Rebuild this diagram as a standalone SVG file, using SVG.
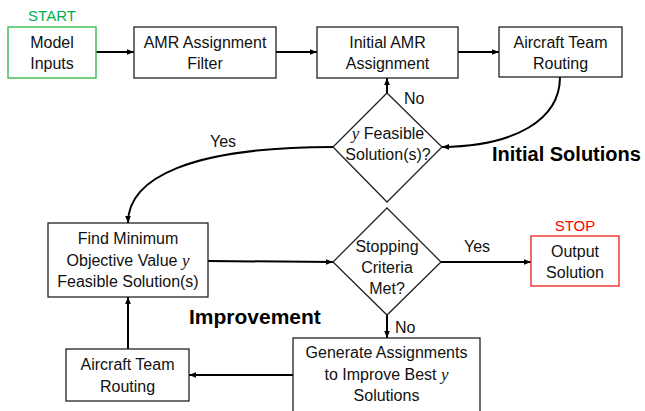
<svg xmlns="http://www.w3.org/2000/svg" width="645" height="411" viewBox="0 0 645 411">
<defs>
<marker id="ah" viewBox="0 0 10 10" refX="10" refY="5" markerWidth="7" markerHeight="7" markerUnits="userSpaceOnUse" orient="auto">
<path d="M0,1 L10,5 L0,9 Z" fill="#000"/>
</marker>
<style>
.box{fill:#fff;stroke:#222;stroke-width:1.3}
.dia{fill:#fff;stroke:#222;stroke-width:1.3}
.t{font-family:"Liberation Sans",Arial,sans-serif;font-size:16px;fill:#111;text-anchor:middle}
.y{font-family:"Liberation Serif","Times New Roman",serif;font-style:italic;font-size:17px}
.c{fill:none;stroke:#000;stroke-width:2;marker-end:url(#ah)}
.h{font-family:"Liberation Sans",Arial,sans-serif;font-weight:bold;fill:#000}
.lab{font-family:"Liberation Sans",Arial,sans-serif;font-size:16px;fill:#111}
</style>
</defs>
<rect width="645" height="411" fill="#fff"/>

<g id="connectors">
<line class="c" x1="96" y1="52" x2="134" y2="52"/>
<line class="c" x1="276" y1="52" x2="317" y2="52"/>
<line class="c" x1="458" y1="52" x2="499" y2="52"/>
<line class="c" x1="387" y1="93" x2="387" y2="78"/>
<path class="c" d="M560,77 C560,120 515,146 442,147"/>
<path class="c" d="M333,147 C190,147 128,178 128,223"/>
<line class="c" x1="208" y1="261" x2="333" y2="262"/>
<line class="c" x1="441" y1="262" x2="531" y2="262"/>
<line class="c" x1="387" y1="315" x2="387" y2="338"/>
<line class="c" x1="293" y1="375" x2="189" y2="375"/>
<line class="c" x1="128" y1="349" x2="128" y2="297"/>
<text class="lab" x="404" y="104">No</text>
<text class="lab" x="223" y="147" text-anchor="middle">Yes</text>
<text class="lab" x="477" y="252" text-anchor="middle">Yes</text>
<text class="lab" x="395" y="333">No</text>
</g>

<g id="start">
<text x="52" y="21" font-family="Liberation Sans,Arial,sans-serif" font-size="15" fill="#00b050" text-anchor="middle">START</text>
<rect x="8" y="27" width="88" height="51" fill="#fff" stroke="#44c05a" stroke-width="1.5"/>
<text class="t" x="52" y="48">Model</text>
<text class="t" x="52" y="69">Inputs</text>
</g>

<g id="filter">
<rect class="box" x="134" y="27" width="142" height="51"/>
<text class="t" x="205" y="48">AMR Assignment</text>
<text class="t" x="205" y="69">Filter</text>
</g>

<g id="initial">
<rect class="box" x="317" y="27" width="141" height="51"/>
<text class="t" x="387.5" y="48">Initial AMR</text>
<text class="t" x="387.5" y="69">Assignment</text>
</g>

<g id="routing1">
<rect class="box" x="499" y="27" width="123" height="50"/>
<text class="t" x="560.5" y="48">Aircraft Team</text>
<text class="t" x="560.5" y="69">Routing</text>
</g>

<g id="feasible">
<polygon class="dia" points="387,93 442,147 387,202 333,147"/>
<text class="t" x="388" y="139"><tspan class="y">y</tspan> Feasible</text>
<text class="t" x="388" y="160">Solution(s)?</text>
</g>

<g id="findmin">
<rect class="box" x="48" y="223" width="160" height="74"/>
<text class="t" x="128" y="244">Find Minimum</text>
<text class="t" x="128" y="266">Objective Value <tspan class="y">y</tspan></text>
<text class="t" x="128" y="287">Feasible Solution(s)</text>
</g>

<g id="stopping">
<polygon class="dia" points="387,208 441,262 387,315 333,262"/>
<text class="t" x="387" y="252">Stopping</text>
<text class="t" x="387" y="273">Criteria</text>
<text class="t" x="387" y="294">Met?</text>
</g>

<g id="stop">
<text x="575" y="231" font-family="Liberation Sans,Arial,sans-serif" font-size="15" fill="#ff0000" text-anchor="middle">STOP</text>
<rect x="531" y="236" width="88" height="50" fill="#fff" stroke="#f03c3c" stroke-width="1.5"/>
<text class="t" x="575" y="257">Output</text>
<text class="t" x="575" y="278">Solution</text>
</g>

<g id="generate">
<rect class="box" x="293" y="338" width="187" height="85"/>
<text class="t" x="386.5" y="358">Generate Assignments</text>
<text class="t" x="386.5" y="380">to Improve Best <tspan class="y">y</tspan></text>
<text class="t" x="386.5" y="401">Solutions</text>
</g>

<g id="routing2">
<rect class="box" x="66" y="349" width="123" height="52"/>
<text class="t" x="127.5" y="370">Aircraft Team</text>
<text class="t" x="127.5" y="392">Routing</text>
</g>

<g id="section-labels">
<text class="h" x="492" y="161" font-size="20">Initial Solutions</text>
<text class="h" x="189" y="324" font-size="21">Improvement</text>
</g>
</svg>
